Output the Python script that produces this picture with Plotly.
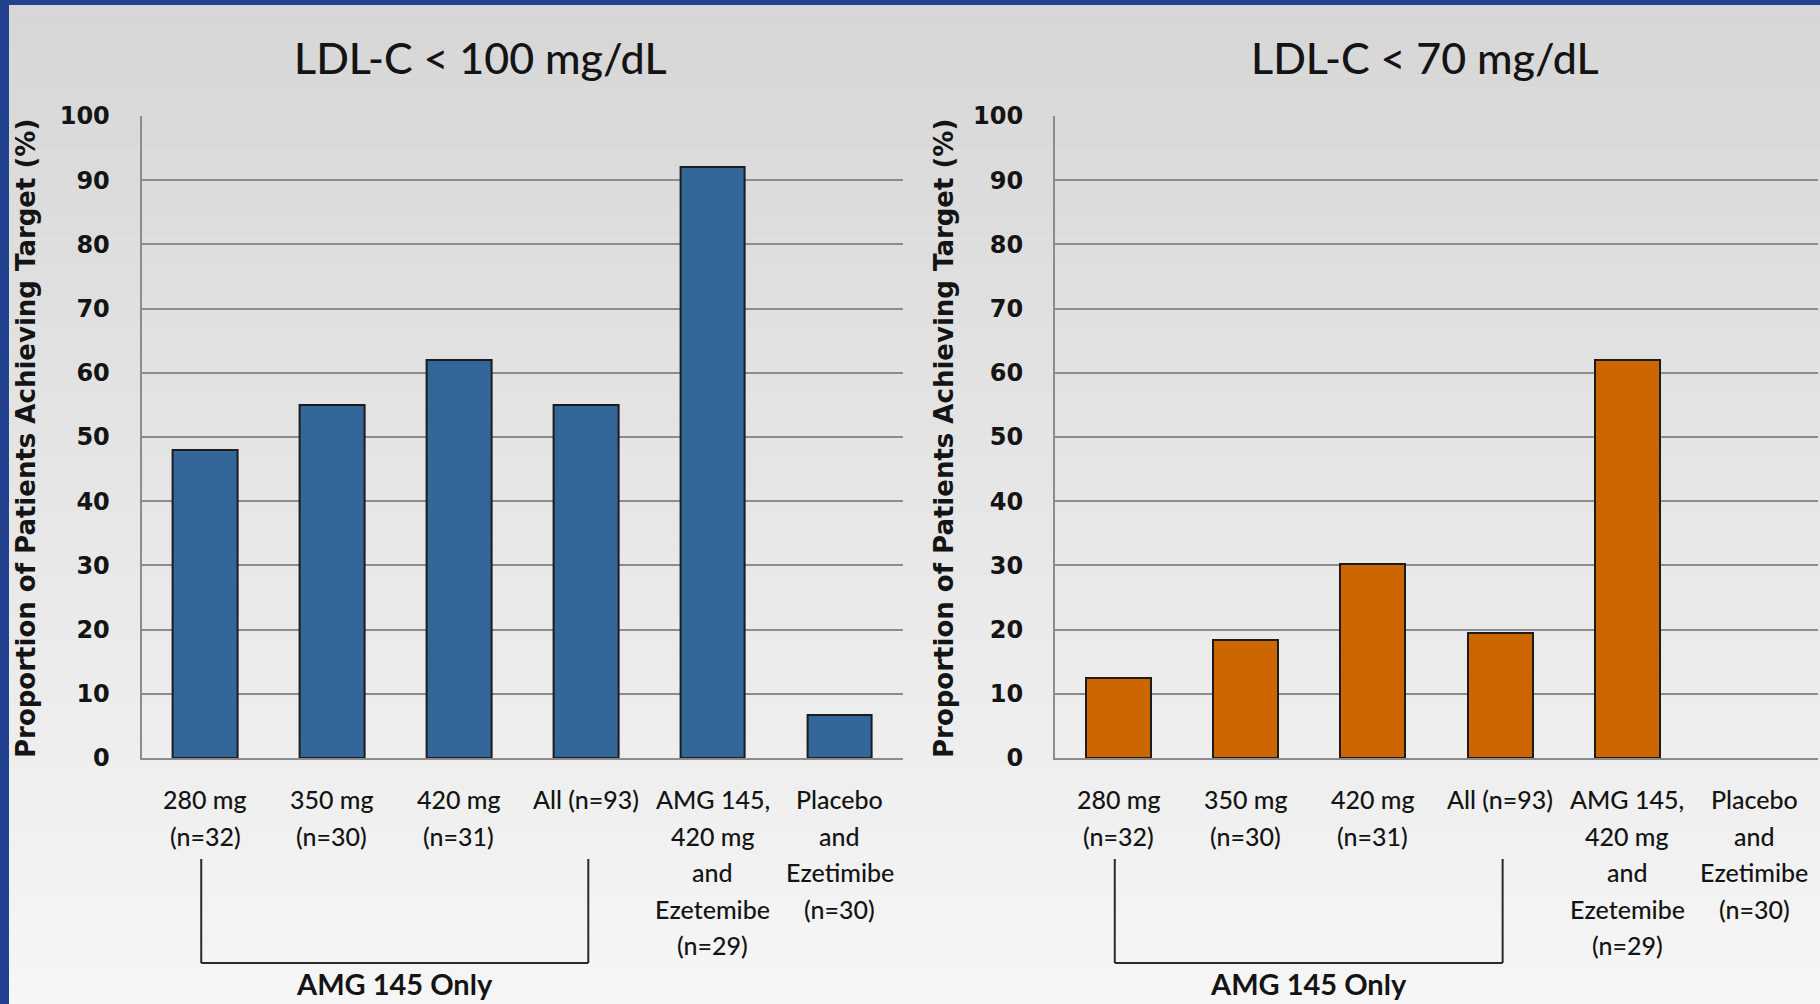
import plotly.graph_objects as go

# ---- data -------------------------------------------------------------
categories = [
    "280 mg (n=32)",
    "350 mg (n=30)",
    "420 mg (n=31)",
    "All (n=93)",
    "AMG 145, 420 mg and Ezetemibe (n=29)",
    "Placebo and Ezetimibe (n=30)",
]
category_lines = [
    ["280 mg", "(n=32)"],
    ["350 mg", "(n=30)"],
    ["420 mg", "(n=31)"],
    ["All (n=93)"],
    ["AMG 145,", "420 mg", "and", "Ezetemibe", "(n=29)"],
    ["Placebo", "and", "Ezetimibe", "(n=30)"],
]
pct_ldl_below_100 = [48, 55, 62, 55, 92, 6.7]
pct_ldl_below_70 = [12.5, 18.4, 30.2, 19.4, 62, 0]
panel_titles = ["LDL-C < 100 mg/dL", "LDL-C < 70 mg/dL"]
y_ticks = [0, 10, 20, 30, 40, 50, 60, 70, 80, 90, 100]
y_title = "Proportion of Patients Achieving Target (%)"
bracket_label = "AMG 145 Only"

# ---- styling ------------------------------------------------------------
W, H = 1820, 1004
BLUE = "#336699"
ORANGE = "#CC6600"
GRID = "#8c8c8c"
TEXT = "#141414"
FRAME_BLUE = "#22418f"


def py(px):
    """Pixel row (from top) to paper y."""
    return 1 - px / H


def px_x(px):
    return px / W


def outline_widths(values):
    # no outline on an empty bar, so nothing is drawn on the baseline
    return [2 if v > 0 else 0 for v in values]


fig = go.Figure()

fig.add_trace(go.Bar(
    x=categories, y=pct_ldl_below_100, xaxis="x", yaxis="y",
    marker=dict(color=BLUE,
                line=dict(color="#1c1c1c", width=outline_widths(pct_ldl_below_100))),
    width=0.51, showlegend=False, hoverinfo="x+y",
))
fig.add_trace(go.Bar(
    x=categories, y=pct_ldl_below_70, xaxis="x2", yaxis="y2",
    marker=dict(color=ORANGE,
                line=dict(color="#1c1c1c", width=outline_widths(pct_ldl_below_70))),
    width=0.51, showlegend=False, hoverinfo="x+y",
))

x_domains = [[px_x(141.6), px_x(903)], [px_x(1055), px_x(1818)]]
y_domain = [py(758), py(116)]

xaxis_common = dict(
    type="category", showticklabels=False, showgrid=False, ticks="",
    showline=True, linecolor=GRID, linewidth=2, fixedrange=True,
    automargin=False,
)
yaxis_common = dict(
    range=[0, 100], tickvals=y_ticks, showgrid=True, gridcolor=GRID,
    gridwidth=2, showline=True, linecolor=GRID, linewidth=2, ticks="",
    ticklabelstandoff=25, zeroline=False, fixedrange=True, automargin=False,
    tickfont=dict(family="DejaVu Sans", size=24, color=TEXT, weight="bold"),
    domain=y_domain,
)

fig.update_layout(
    template="none",
    width=W, height=H, autosize=False,
    margin=dict(l=0, r=0, t=0, b=0, pad=0, autoexpand=False),
    paper_bgcolor="#ececec",
    plot_bgcolor="rgba(0,0,0,0)",
    showlegend=False,
    bargap=0,
    xaxis=dict(domain=x_domains[0], anchor="y", **xaxis_common),
    yaxis=dict(anchor="x", **yaxis_common),
    xaxis2=dict(domain=x_domains[1], anchor="y2", **xaxis_common),
    yaxis2=dict(anchor="x2", **yaxis_common),
)

shapes = []

# slide background: vertical grey gradient, darker at the top
n_bands = 80
for i in range(n_bands):
    t = i / (n_bands - 1)
    g = round(214 + (246 - 214) * t)
    shapes.append(dict(
        type="rect", xref="paper", yref="paper", layer="below",
        x0=0, x1=1, y0=1 - (i + 1) / n_bands, y1=1 - i / n_bands,
        fillcolor=f"rgb({g},{g},{g})", line=dict(width=0),
    ))

# blue slide frame on the left and top edges
shapes.append(dict(type="rect", xref="paper", yref="paper", layer="above",
                   x0=0, x1=px_x(9), y0=0, y1=1,
                   fillcolor=FRAME_BLUE, line=dict(width=0)))
shapes.append(dict(type="rect", xref="paper", yref="paper", layer="above",
                   x0=0, x1=1, y0=py(5), y1=1,
                   fillcolor=FRAME_BLUE, line=dict(width=0)))

annotations = []

for k, xref in enumerate(["x", "x2"]):
    # bracket grouping the AMG 145 only arms
    bx0, bx1 = -0.03, 3.02
    ytop, ybot = py(859), py(963)
    for (xa, xb, ya, yb) in [(bx0, bx0, ytop, ybot), (bx1, bx1, ytop, ybot),
                             (bx0, bx1, ybot, ybot)]:
        shapes.append(dict(type="line", xref=xref, yref="paper",
                           x0=xa, x1=xb, y0=ya, y1=yb,
                           line=dict(color="#2a2a2a", width=2)))
    annotations.append(dict(
        xref=xref, yref="paper", x=(bx0 + bx1) / 2, y=py(1003),
        text=bracket_label, showarrow=False, xanchor="center", yanchor="bottom",
        font=dict(family="Lato", size=29, color=TEXT, weight="bold"),
    ))

    # category labels, one row per text line
    for cat, lines in zip(categories, category_lines):
        for r, line in enumerate(lines):
            annotations.append(dict(
                xref=xref, yref="paper", x=cat, y=py(799 + r * 36.6),
                text=line, showarrow=False, xanchor="center", yanchor="middle",
                font=dict(family="Lato", size=25, color=TEXT, weight=500),
            ))

# panel titles
for title, xc in zip(panel_titles, [480, 1425]):
    annotations.append(dict(
        xref="paper", yref="paper", x=px_x(xc), y=py(58),
        text=title, showarrow=False, xanchor="center", yanchor="middle",
        font=dict(family="Lato", size=43, color=TEXT, weight=500),
    ))

# rotated y-axis titles
for xc in [26, 944]:
    annotations.append(dict(
        xref="paper", yref="paper", x=px_x(xc), y=py(439),
        text=y_title, textangle=-90, showarrow=False,
        xanchor="center", yanchor="middle",
        font=dict(family="DejaVu Sans", size=26, color=TEXT, weight="bold"),
    ))

fig.update_layout(shapes=shapes, annotations=annotations)

fig.write_html(
    "out.html",
    post_script="document.body.style.margin='0';"
                "document.body.style.padding='0';"
                "document.documentElement.style.overflow='hidden';",
)
